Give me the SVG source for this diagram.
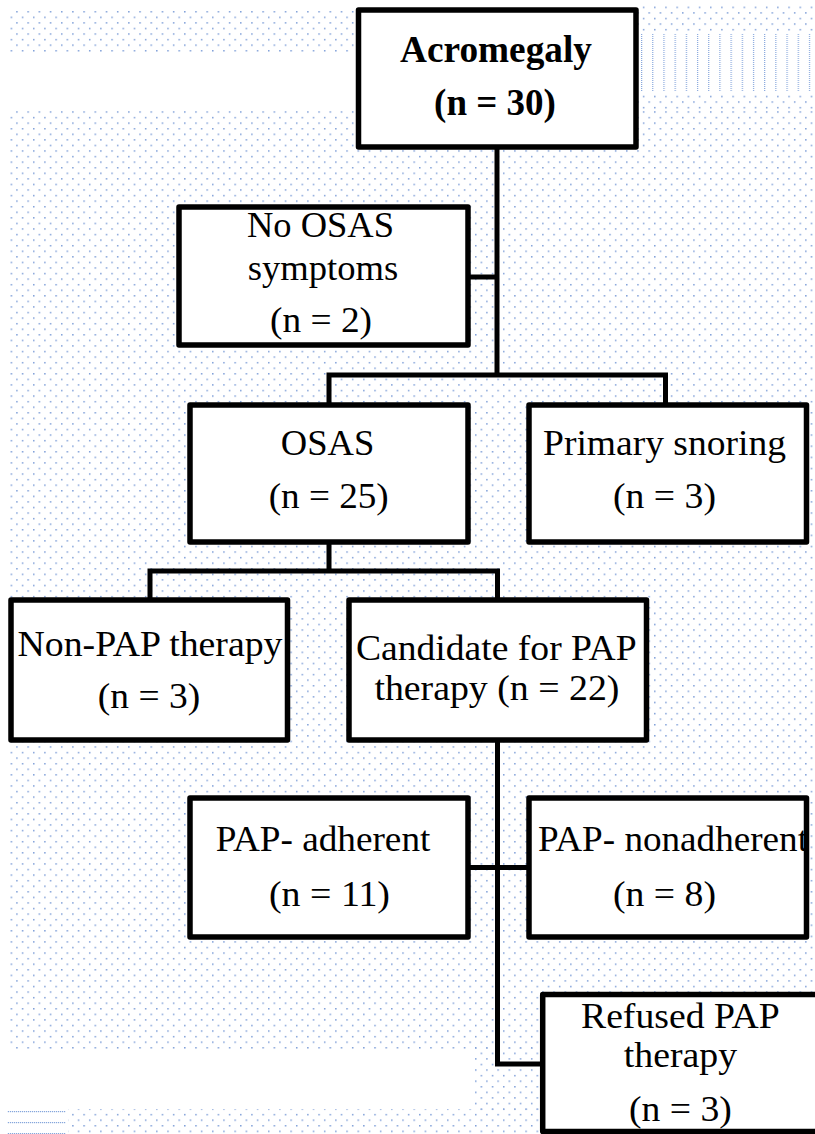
<svg xmlns="http://www.w3.org/2000/svg" width="815" height="1134" viewBox="0 0 815 1134">
<defs>
<pattern id="dots" patternUnits="userSpaceOnUse" x="10.6" y="11" width="11.19" height="11.14">
<rect x="5.6" y="0" width="1.5" height="1.5" fill="#7f9fd8"/>
<rect x="0" y="5.57" width="1.5" height="1.5" fill="#7f9fd8"/>
</pattern>
<pattern id="dots2" patternUnits="userSpaceOnUse" x="10.6" y="6.6" width="11.19" height="11.14">
<rect x="5.6" y="0" width="1.5" height="1.5" fill="#7f9fd8"/>
<rect x="0" y="5.57" width="1.5" height="1.5" fill="#7f9fd8"/>
</pattern>
<pattern id="stripes" patternUnits="userSpaceOnUse" x="641" y="0" width="11.19" height="2">
<rect x="0" y="0" width="1.2" height="1" fill="#86a6dc"/>
</pattern>
<pattern id="hline" patternUnits="userSpaceOnUse" x="0" y="0" width="2" height="11">
<rect x="0" y="0" width="1.2" height="1.2" fill="#86a6dc"/>
</pattern>
</defs>
<style>
.box{fill:#fff;stroke:#000;stroke-width:5.5;stroke-linejoin:round}
.con{fill:none;stroke:#000;stroke-width:5;stroke-linejoin:miter}
text{font-family:"Liberation Serif","Times New Roman",serif;font-size:36px;fill:#000;text-anchor:middle}
.b{font-weight:bold;font-size:37px}
</style>
<g id="background">
<rect width="815" height="1134" fill="#fff"/>
<rect x="10" y="9" width="346" height="45" fill="url(#dots)"/>
<rect x="10" y="109" width="805" height="940" fill="url(#dots)"/>
<rect x="638" y="4" width="177" height="29" fill="url(#dots2)"/>
<rect x="638" y="92" width="177" height="17" fill="url(#dots2)"/>
<rect x="638" y="33" width="177" height="59" fill="url(#stripes)"/>
<rect x="474" y="1048" width="341" height="62" fill="url(#dots)"/>
<rect x="68" y="1109" width="747" height="25" fill="url(#dots)"/>
<rect x="7" y="1111" width="59" height="23" fill="url(#hline)"/>
</g>
<g id="connectors">
<path class="con" d="M497 147V375M329 405V375H665.5V405M468 277H497"/>
<path class="con" d="M329 541.5V571M150 600V571H497.5V600"/>
<path class="con" d="M497.5 740V1064H542.7M468 867.5H528"/>
</g>
<g id="n-acromegaly">
<rect class="box" x="358.5" y="10" width="277.5" height="137"/>
<text class="b" x="496" y="61.5" textLength="192" lengthAdjust="spacingAndGlyphs">Acromegaly</text>
<text class="b" x="495" y="115">(n = 30)</text>
</g>
<g id="n-noosas">
<rect class="box" x="179" y="207" width="289" height="138"/>
<text x="320.5" y="237" textLength="147" lengthAdjust="spacingAndGlyphs">No OSAS</text>
<text x="323" y="280" textLength="150.5" lengthAdjust="spacingAndGlyphs">symptoms</text>
<text x="321" y="332" textLength="102" lengthAdjust="spacingAndGlyphs">(n = 2)</text>
</g>
<g id="n-osas">
<rect class="box" x="190" y="405" width="278" height="137"/>
<text x="327.5" y="455" textLength="93.5" lengthAdjust="spacingAndGlyphs">OSAS</text>
<text x="328.7" y="508" textLength="120" lengthAdjust="spacingAndGlyphs">(n = 25)</text>
</g>
<g id="n-snoring">
<rect class="box" x="529" y="405" width="277.5" height="137"/>
<text x="664.5" y="455" textLength="243" lengthAdjust="spacingAndGlyphs">Primary snoring</text>
<text x="664.5" y="508" textLength="103" lengthAdjust="spacingAndGlyphs">(n = 3)</text>
</g>
<g id="n-nonpap">
<rect class="box" x="11" y="600" width="276.5" height="140"/>
<text x="150" y="655.5" textLength="265" lengthAdjust="spacingAndGlyphs">Non-PAP therapy</text>
<text x="149" y="708" textLength="102.3" lengthAdjust="spacingAndGlyphs">(n = 3)</text>
</g>
<g id="n-candidate">
<rect class="box" x="349" y="600" width="297.5" height="140"/>
<text x="496.3" y="660" textLength="280.7" lengthAdjust="spacingAndGlyphs">Candidate for PAP</text>
<text x="496.9" y="700" textLength="245" lengthAdjust="spacingAndGlyphs">therapy (n = 22)</text>
</g>
<g id="n-adherent">
<rect class="box" x="190" y="798" width="278" height="139"/>
<text x="323" y="851" textLength="214.7" lengthAdjust="spacingAndGlyphs">PAP- adherent</text>
<text x="329.5" y="906" textLength="121" lengthAdjust="spacingAndGlyphs">(n = 11)</text>
</g>
<g id="n-nonadherent">
<rect class="box" x="529" y="798" width="277.5" height="139"/>
<text x="673" y="851" textLength="270" lengthAdjust="spacingAndGlyphs">PAP- nonadherent</text>
<text x="664.5" y="906" textLength="103" lengthAdjust="spacingAndGlyphs">(n = 8)</text>
</g>
<g id="n-refused">
<rect class="box" x="542.7" y="994.5" width="300" height="137"/>
<text x="680.3" y="1028" textLength="198.6" lengthAdjust="spacingAndGlyphs">Refused PAP</text>
<text x="680.4" y="1067" textLength="113.3" lengthAdjust="spacingAndGlyphs">therapy</text>
<text x="680.4" y="1121" textLength="102.8" lengthAdjust="spacingAndGlyphs">(n = 3)</text>
</g>
</svg>
